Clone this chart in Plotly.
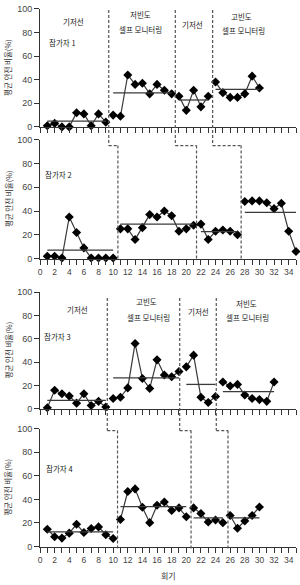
import plotly.graph_objects as go

# ---------------- data ----------------
p1_phases = [[1, 3, 0, 0, 12, 11, 1, 11, 4],
             [10, 9, 44, 36, 37, 28, 36, 31, 28],
             [26, 14, 31, 17, 26],
             [38, 29, 25, 25, 28, 43, 33]]
p1_means = [4.8, 28.9, 22.8, 31.8]

p2_phases = [[2, 2, 0.5, 35, 22, 9, 0.5, 0.5, 0.5, 0.5],
             [25, 25, 16, 26, 37, 35, 40, 36, 23, 25, 28],
             [29, 16, 23, 24, 23, 20],
             [48, 48.5, 48.5, 47, 42, 46.5, 23, 6]]
p2_means = [7.2, 29, 22.6, 38.8]

p3_phases = [[1, 16, 13, 11, 5, 13, 3, 6.5, 1.7],
             [9, 10, 18, 56, 26, 17.6, 42, 29, 27.5, 32],
             [36, 46, 10, 5.6, 10.7],
             [23, 19.6, 21, 12, 9, 8, 6.5, 23]]
p3_means = [7.3, 26.6, 21, 14.9]

p4_phases = [[14.7, 8.3, 7.2, 11.4, 18.9, 11.9, 15.3, 16.7, 10, 6.9],
             [23, 46.7, 48.9, 33.3, 20.3, 35, 37.8, 30.6, 32.8, 25.3],
             [32.8, 28.1, 20.8, 22.5, 20.3],
             [26.4, 15.6, 21.7, 26.4, 33.6]]
p4_means = [12.5, 33.9, 24.4, 24.4]

phase_changes = [[9.4, 18.5, 23.6],
                 [10.65, 21.4, 27.5],
                 [9.2, 19.1, 24.1],
                 [10.6, 20.65, 25.7]]

participants = ["참가자 1", "참가자 2", "참가자 3", "참가자 4"]
y_ticks = [0, 20, 40, 60, 80, 100]
x_ticks = list(range(0, 35, 2))

panels = [(p1_phases, p1_means), (p2_phases, p2_means),
          (p3_phases, p3_means), (p4_phases, p4_means)]

# ---------------- layout helpers ----------------
H = 585
def py(px):
    return 1 - px / H

# pixel extents (top, bottom) of each panel's plot area
panel_px = [(4, 124), (137, 258), (292, 411), (431, 551)]

LINE_C = "#3a3a3a"
DASH_C = "#555555"
TXT_FONT = "Noto Sans CJK KR"
NUM_FONT = "Liberation Sans, Arial, sans-serif"

fig = go.Figure()

for i, (phases, means) in enumerate(panels):
    ax = "" if i == 0 else str(i + 1)
    s = 1
    for ph, m in zip(phases, means):
        xs = list(range(s, s + len(ph)))
        fig.add_trace(go.Scatter(
            x=xs, y=ph, mode="lines+markers",
            line=dict(color=LINE_C, width=1.2),
            marker=dict(symbol="diamond", size=7, color="black"),
            xaxis="x" + ax, yaxis="y" + ax, showlegend=False,
            cliponaxis=False, hoverinfo="skip"))
        fig.add_trace(go.Scatter(
            x=[xs[0], xs[-1]], y=[m, m], mode="lines",
            line=dict(color=LINE_C, width=1.3),
            xaxis="x" + ax, yaxis="y" + ax, showlegend=False,
            cliponaxis=False, hoverinfo="skip"))
        s += len(ph)

layout = dict(
    width=300, height=585,
    margin=dict(l=40, r=4, t=0, b=0),
    plot_bgcolor="white", paper_bgcolor="white",
    showlegend=False,
)

for i in range(4):
    ax = "" if i == 0 else str(i + 1)
    top, bot = panel_px[i]
    show_lbl = i in (1, 3)
    layout["xaxis" + ax] = dict(
        domain=[0, 1], anchor="y" + ax, range=[0, 35],
        tickvals=x_ticks, ticktext=[str(t) for t in x_ticks],
        showticklabels=show_lbl,
        ticks="outside", ticklen=5, tickwidth=1, tickcolor="#333",
        minor=dict(dtick=1, tick0=0, ticks="outside", ticklen=5, tickwidth=1, tickcolor="#333"),
        showline=True, linecolor="#333", linewidth=1,
        showgrid=False, zeroline=False,
        tickfont=dict(family=NUM_FONT, size=8.5, color="#444"),
    )
    layout["yaxis" + ax] = dict(
        domain=[py(bot), py(top)], anchor="x" + ax, range=[0, 100],
        tickvals=y_ticks,
        ticks="outside", ticklen=5, tickwidth=1, tickcolor="#333",
        showline=True, linecolor="#333", linewidth=1,
        showgrid=False, zeroline=False,
        tickfont=dict(family=NUM_FONT, size=9, color="#444"),
    )

fig.update_layout(**layout)

# ---------------- phase change lines (staircase) ----------------
dash = dict(color=DASH_C, width=1.2, dash="3px,2px")
shapes = []
# participant 1 -> 2
for a, b in zip(phase_changes[0], phase_changes[1]):
    shapes.append(dict(type="line", xref="x", yref="paper", x0=a, x1=a, y0=py(5), y1=py(143), line=dash))
    shapes.append(dict(type="line", xref="x", yref="paper", x0=a, x1=b, y0=py(143), y1=py(143), line=dash))
    shapes.append(dict(type="line", xref="x2", yref="paper", x0=b, x1=b, y0=py(143), y1=py(258), line=dash))
# participant 3 -> 4
for a, b in zip(phase_changes[2], phase_changes[3]):
    shapes.append(dict(type="line", xref="x3", yref="paper", x0=a, x1=a, y0=py(298), y1=py(433), line=dash))
    shapes.append(dict(type="line", xref="x3", yref="paper", x0=a, x1=b, y0=py(433), y1=py(433), line=dash))
    shapes.append(dict(type="line", xref="x4", yref="paper", x0=b, x1=b, y0=py(433), y1=py(555), line=dash))
fig.update_layout(shapes=shapes)

# ---------------- annotations ----------------
ann = []
def txt(text, x, y, axn, xanchor="center", size=7.5):
    ann.append(dict(text=text, x=x, y=y, xref="x" + axn, yref="y" + axn,
                    showarrow=False, xanchor=xanchor, yanchor="middle",
                    font=dict(family=TXT_FONT, size=size, color="#222")))

# panel 1 phase labels
txt("기저선", 4.6, 89, "")
txt("저빈도", 13.8, 95, "")
txt("셀프 모니터링", 13.8, 82.5, "")
txt("기저선", 20.8, 86.7, "")
txt("고빈도", 27.6, 93.3, "")
txt("셀프 모니터링", 27.8, 81.7, "")
txt(participants[0], 0.9, 71.7, "", xanchor="left")
# panel 2
txt(participants[1], 0.4, 71, "2", xanchor="left")
# panel 3
txt("기저선", 5.1, 85, "3")
txt("고빈도", 14.5, 91.6, "3")
txt("셀프 모니터링", 14.8, 78.2, "3")
txt("기저선", 21.7, 83.2, "3")
txt("저빈도", 28.3, 89.9, "3")
txt("셀프 모니터링", 28.4, 78.2, "3")
txt(participants[2], 0.3, 62.2, "3", xanchor="left")
# panel 4
txt(participants[3], 0.55, 65.8, "4", xanchor="left")

# y-axis titles
for i in range(4):
    top, bot = panel_px[i]
    ann.append(dict(text="평균 안전 비율(%)", x=(8 - 40) / 256, y=py((top + bot) / 2),
                    xref="paper", yref="paper", showarrow=False, textangle=-90,
                    xanchor="center", yanchor="middle",
                    font=dict(family=TXT_FONT, size=7.5, color="#333")))
# x-axis title
ann.append(dict(text="회기", x=0.5, y=py(580), xref="paper", yref="paper",
                showarrow=False, xanchor="center", yanchor="middle",
                font=dict(family=TXT_FONT, size=8, color="#333")))
fig.update_layout(annotations=ann)

fig.write_html("out.html")
